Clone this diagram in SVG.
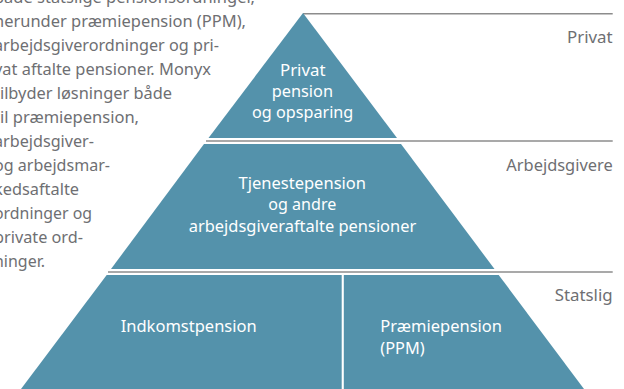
<svg xmlns="http://www.w3.org/2000/svg" width="624" height="389" viewBox="0 0 624 389">
<style>
text{font-family:"Noto Sans","Open Sans","Liberation Sans",sans-serif;font-size:15.5px}
.t{fill:#55565a;opacity:.85}
.l{fill:#fff;font-size:16px}
.s{fill:#5492ab}
.r{stroke:#8c8c8c;stroke-width:1.4;fill:none}
</style>
<rect width="624" height="389" fill="#fff"/>
<g id="body-text">
<text class="t" x="-6" y="3" textLength="261" lengthAdjust="spacingAndGlyphs">både statslige pensionsordninger,</text>
<text class="t" x="-6" y="27" textLength="252" lengthAdjust="spacingAndGlyphs">herunder præmiepension (PPM),</text>
<text class="t" x="-6" y="51" textLength="225" lengthAdjust="spacingAndGlyphs">arbejdsgiverordninger og pri-</text>
<text class="t" x="-6" y="75" textLength="217" lengthAdjust="spacingAndGlyphs">vat aftalte pensioner. Monyx</text>
<text class="t" x="-6" y="99" textLength="178" lengthAdjust="spacingAndGlyphs">tilbyder løsninger både</text>
<text class="t" x="-6" y="123" textLength="145" lengthAdjust="spacingAndGlyphs">til præmiepension,</text>
<text class="t" x="-6" y="147" textLength="100" lengthAdjust="spacingAndGlyphs">arbejdsgiver-</text>
<text class="t" x="-6" y="171" textLength="116" lengthAdjust="spacingAndGlyphs">og arbejdsmar-</text>
<text class="t" x="-6" y="195" textLength="85" lengthAdjust="spacingAndGlyphs">kedsaftalte</text>
<text class="t" x="-6" y="219" textLength="98" lengthAdjust="spacingAndGlyphs">ordninger og</text>
<text class="t" x="-6" y="243" textLength="89" lengthAdjust="spacingAndGlyphs">private ord-</text>
<text class="t" x="-6" y="267" textLength="51" lengthAdjust="spacingAndGlyphs">ninger.</text>
</g>
<g id="connectors">
<line class="r" x1="303" y1="13.7" x2="612.7" y2="13.7"/>
<line class="r" x1="206" y1="141" x2="612.7" y2="141"/>
<line class="r" x1="108" y1="272" x2="612.7" y2="272"/>
</g>
<g id="tier-private">
<polygon class="s" points="303,13 397,138 208.5,138"/>
<text class="l" x="280" y="76" textLength="45.5" lengthAdjust="spacingAndGlyphs">Privat</text>
<text class="l" x="271.7" y="97" textLength="61.3" lengthAdjust="spacingAndGlyphs">pension</text>
<text class="l" x="252" y="117.5" textLength="101.3" lengthAdjust="spacingAndGlyphs">og opsparing</text>
</g>
<g id="tier-employer">
<polygon class="s" points="204,144 401,144 494.5,269 111,269"/>
<text class="l" x="238.5" y="189" textLength="127.5" lengthAdjust="spacingAndGlyphs">Tjenestepension</text>
<text class="l" x="268.3" y="210" textLength="68" lengthAdjust="spacingAndGlyphs">og andre</text>
<text class="l" x="188.7" y="231.7" textLength="227.6" lengthAdjust="spacingAndGlyphs">arbejdsgiveraftalte pensioner</text>
</g>
<g id="tier-income">
<polygon class="s" points="106.7,275 341.7,275 341.7,389 21,389"/>
<text class="l" x="120.7" y="332.3" textLength="136" lengthAdjust="spacingAndGlyphs">Indkomstpension</text>
</g>
<g id="tier-premium">
<polygon class="s" points="343.8,275 498.7,275 584,389 343.8,389"/>
<text class="l" x="380.3" y="332.3" textLength="121.7" lengthAdjust="spacingAndGlyphs">Præmiepension</text>
<text class="l" x="380.3" y="354" textLength="44.4" lengthAdjust="spacingAndGlyphs">(PPM)</text>
</g>
<g id="side-labels">
<text class="t" x="567" y="42.7" textLength="45.7" lengthAdjust="spacingAndGlyphs">Privat</text>
<text class="t" x="506.3" y="170.7" textLength="106.4" lengthAdjust="spacingAndGlyphs">Arbejdsgivere</text>
<text class="t" x="554.7" y="300.7" textLength="58" lengthAdjust="spacingAndGlyphs">Statslig</text>
</g>
</svg>
